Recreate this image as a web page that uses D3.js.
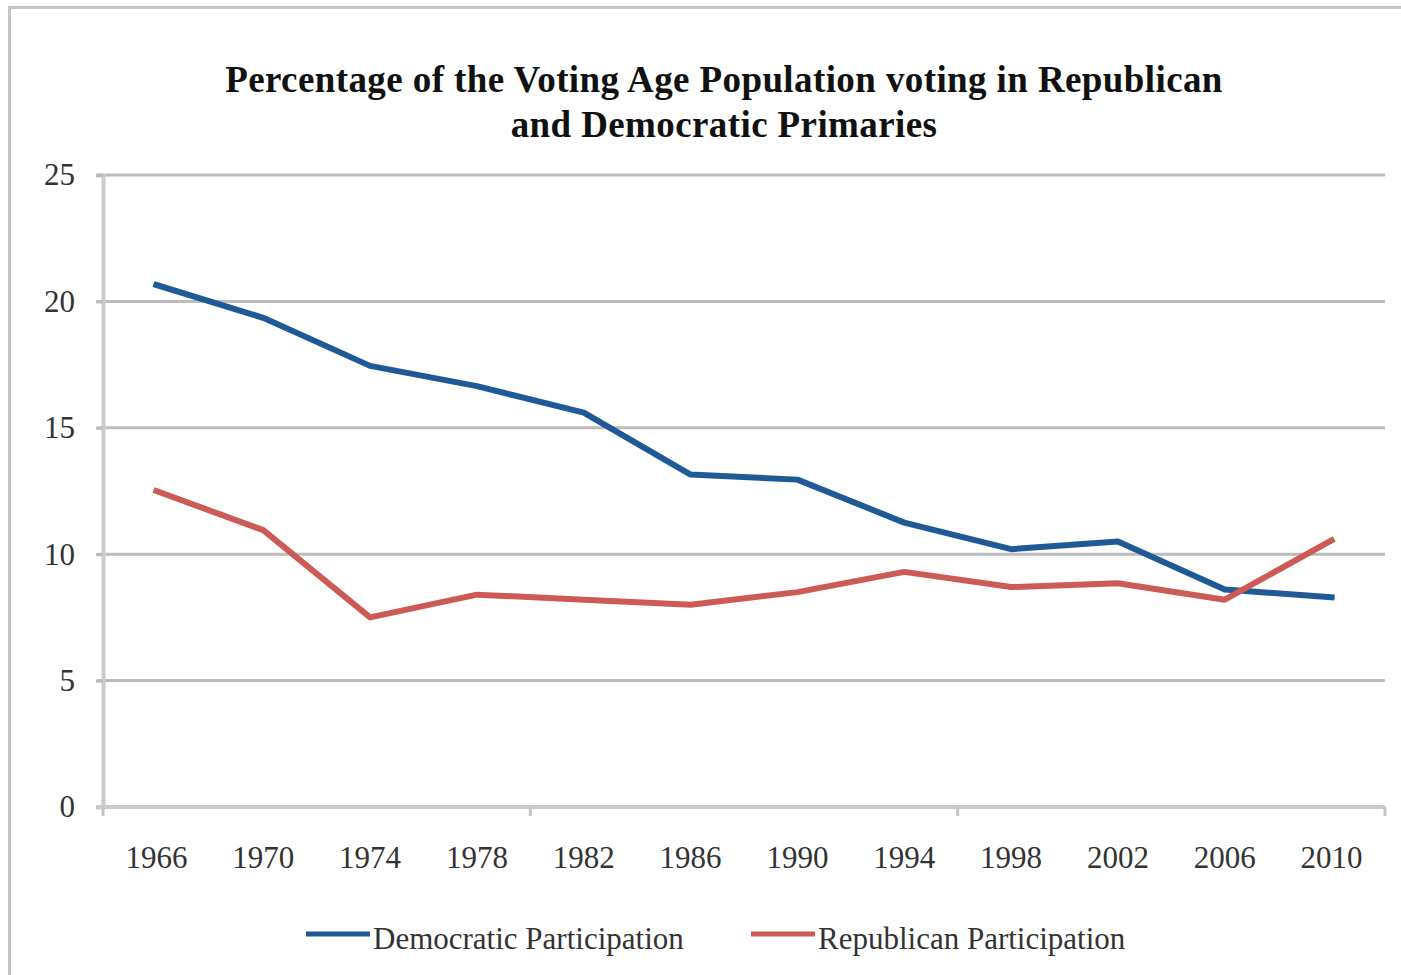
<!DOCTYPE html>
<html>
<head>
<meta charset="utf-8">
<script src="https://cdn.jsdelivr.net/npm/d3@7"></script>
<style>
  body { margin: 0; background: #fff; }
  svg { display: block; }
</style>
</head>
<body>
<div id="chart"></div>
<script>
// data
var years = ["1966", "1970", "1974", "1978", "1982", "1986", "1990", "1994", "1998", "2002", "2006", "2010"];
var democratic = [20.65, 19.35, 17.45, 16.65, 15.6, 13.15, 12.95, 11.25, 10.2, 10.5, 8.6, 8.3];
var republican = [12.5, 10.95, 7.5, 8.4, 8.2, 8.0, 8.5, 9.3, 8.7, 8.85, 8.2, 10.55];
var yTicks = [0, 5, 10, 15, 20, 25];
var seriesNames = ["Democratic Participation", "Republican Participation"];
var colors = ["#205a96", "#cc5a55"];

var W = 1401, H = 975;
var margin = {left: 103, right: 16, top: 175, bottom: 168};
var font = "'Liberation Serif', 'Times New Roman', serif";

var svg = d3.select("#chart").append("svg")
    .attr("width", W)
    .attr("height", H);

// outer frame (left and top edges visible)
svg.append("path")
    .attr("d", "M9.5," + H + " V7.5 H" + W)
    .attr("fill", "none")
    .attr("stroke", "#c4c4c4")
    .attr("stroke-width", 3);

var x = d3.scaleBand()
    .domain(years)
    .range([margin.left, W - margin.right]);

var y = d3.scaleLinear()
    .domain([0, 25])
    .range([H - margin.bottom, margin.top]);

// title
var title = svg.append("text")
    .attr("text-anchor", "middle")
    .attr("font-family", font)
    .attr("font-weight", "bold")
    .attr("font-size", 37)
    .attr("letter-spacing", 0.4)
    .attr("fill", "#111");
title.append("tspan").attr("x", 724).attr("y", 92)
    .text("Percentage of the Voting Age Population voting in Republican");
title.append("tspan").attr("x", 724).attr("y", 137)
    .text("and Democratic Primaries");

// gridlines
svg.append("g")
    .selectAll("line")
    .data(yTicks.filter(function(d) { return d > 0; }))
    .enter()
    .append("line")
    .attr("x1", margin.left - 6)
    .attr("x2", W - margin.right)
    .attr("y1", function(d) { return y(d); })
    .attr("y2", function(d) { return y(d); })
    .attr("stroke", "#bcbcbc")
    .attr("stroke-width", 3);

// y axis
var yAxis = svg.append("g")
    .attr("transform", "translate(" + margin.left + ",0)")
    .call(d3.axisLeft(y).tickValues(yTicks).tickSize(7).tickPadding(21));
yAxis.select(".domain").attr("stroke", "#cccccc").attr("stroke-width", 4);
yAxis.selectAll(".tick line").attr("stroke", "#bcbcbc").attr("stroke-width", 3);
yAxis.selectAll("text")
    .attr("font-family", font)
    .attr("font-size", 31)
    .attr("fill", "#333");

// x axis with ticks every fourth category boundary
var xAxisG = svg.append("g")
    .attr("transform", "translate(0," + y(0) + ")");
xAxisG.append("line")
    .attr("x1", margin.left - 6)
    .attr("x2", W - margin.right)
    .attr("stroke", "#cccccc")
    .attr("stroke-width", 4);
var bounds = [0, 4, 8, 12].map(function(i) {
  return i < years.length ? x(years[i]) : x(years[years.length - 1]) + x.bandwidth();
});
xAxisG.selectAll(".xt")
    .data(bounds)
    .enter()
    .append("line")
    .attr("x1", function(d) { return d; })
    .attr("x2", function(d) { return d; })
    .attr("y1", 0)
    .attr("y2", 9)
    .attr("stroke", "#c4c4c4")
    .attr("stroke-width", 3);
xAxisG.selectAll("text")
    .data(years)
    .enter()
    .append("text")
    .attr("x", function(d) { return x(d) + x.bandwidth() / 2; })
    .attr("y", 61)
    .attr("text-anchor", "middle")
    .attr("font-family", font)
    .attr("font-size", 31)
    .attr("fill", "#333")
    .text(function(d) { return d; });

// lines
var line = d3.line()
    .x(function(d, i) { return x(years[i]) + x.bandwidth() / 2; })
    .y(function(d) { return y(d); });

[democratic, republican].forEach(function(values, k) {
  svg.append("path")
      .datum(values)
      .attr("d", line)
      .attr("fill", "none")
      .attr("stroke", colors[k])
      .attr("stroke-width", 6)
      .attr("stroke-linejoin", "round")
      .attr("stroke-linecap", "square");
});

// legend
var legendX = [306, 751];
var legend = svg.append("g")
    .selectAll("g")
    .data(seriesNames)
    .enter()
    .append("g")
    .attr("transform", function(d, i) { return "translate(" + legendX[i] + ",934)"; });
legend.append("line")
    .attr("x1", 0)
    .attr("x2", 64)
    .attr("stroke", function(d, i) { return colors[i]; })
    .attr("stroke-width", 5);
legend.append("text")
    .attr("x", 67)
    .attr("y", 15)
    .attr("font-family", font)
    .attr("font-size", 31)
    .attr("fill", "#333")
    .text(function(d) { return d; });
</script>
</body>
</html>
